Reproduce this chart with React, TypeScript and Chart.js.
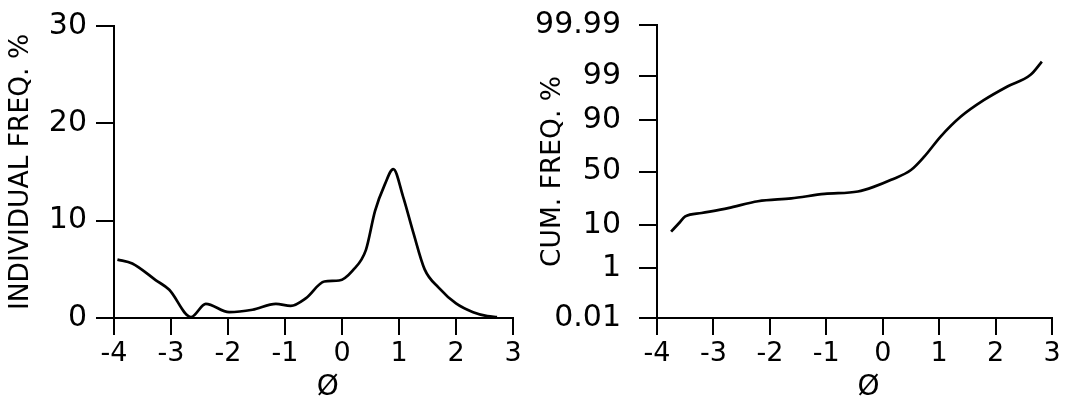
import React, { useEffect, useRef } from "react";
import { Chart, registerables } from "chart.js";

Chart.register(...registerables);

// ---------- data ----------
// Left panel: individual frequency (%) vs phi
const IND_PHI = [-3.94, -3.68, -3.27, -3.03, -2.65, -2.39, -1.98, -1.57, -1.16, -0.9, -0.63, -0.31, -0.05, 0.19, 0.42, 0.58, 0.75, 0.9, 1.07, 1.25, 1.45, 1.7, 2.0, 2.3, 2.55, 2.72];
const IND_FREQ = [6.0, 5.6, 3.9, 2.9, 0.1, 1.45, 0.6, 0.85, 1.45, 1.25, 2.05, 3.75, 3.85, 4.9, 7.0, 11.0, 13.7, 15.3, 12.5, 8.8, 5.0, 3.1, 1.5, 0.6, 0.2, 0.1];
const IND_TICKS = [0, 10, 20, 30];

// Right panel: cumulative frequency on the drawn probability scale
// (values are positions along that scale: 0 = 0.01 %, 6 = 99.99 %)
const CUM_PHI = [-3.75, -3.62, -3.5, -3.21, -2.74, -2.21, -1.62, -1.03, -0.44, -0.15, 0.15, 0.5, 0.74, 1.03, 1.38, 1.79, 2.21, 2.62, 2.82];
const CUM_POS = [1.77, 1.93, 2.08, 2.15, 2.25, 2.39, 2.45, 2.54, 2.59, 2.69, 2.83, 3.03, 3.31, 3.72, 4.12, 4.46, 4.74, 4.98, 5.25];
const CUM_TICK_POS = [0, 1.02, 1.91, 3.0, 4.06, 4.96, 6];
const CUM_TICK_LABELS = ["0.01", "1", "10", "50", "90", "99", "99.99"];

const PHI_TICKS = [-4, -3, -2, -1, 0, 1, 2, 3];
const X_TITLE = "Ø";
const X_TITLE_AT = -0.25; // phi value under the centre of the x-axis title

const FONT = "'DejaVu Sans', 'Liberation Sans', sans-serif";

const xTitlePlugin = {
  id: "xTitle",
  afterDraw(chart: any) {
    const xs = chart.scales.x;
    const ctx = chart.ctx;
    ctx.save();
    ctx.fillStyle = "#000";
    ctx.font = `28px ${FONT}`;
    ctx.textAlign = "center";
    ctx.textBaseline = "middle";
    ctx.fillText(X_TITLE, xs.getPixelForValue(X_TITLE_AT), xs.bottom - 15);
    ctx.restore();
  },
};

type PanelProps = {
  xs: number[];
  ys: number[];
  yMin: number;
  yMax: number;
  yTickPos: number[];
  yTickLabels: string[];
  yTitle: string;
  yTitlePad: number;
  yLabelPad: number;
  yAxisWidth: number;
  padRight: number;
  padTop: number;
  width: number;
};

function Panel(p: PanelProps) {
  const ref = useRef<HTMLCanvasElement | null>(null);
  useEffect(() => {
    if (!ref.current) return;
    const data = p.xs.map((x, i) => ({ x, y: p.ys[i] }));
    const chart = new Chart(ref.current, {
      type: "line",
      data: {
        datasets: [
          {
            data,
            borderColor: "#000",
            borderWidth: 2.7,
            pointRadius: 0,
            fill: false,
            cubicInterpolationMode: "monotone",
          },
        ],
      },
      plugins: [xTitlePlugin],
      options: {
        animation: false,
        responsive: false,
        layout: { padding: { top: p.padTop, right: p.padRight, left: 0, bottom: 0 } },
        plugins: { legend: { display: false }, tooltip: { enabled: false } },
        scales: {
          x: {
            type: "linear",
            min: -4,
            max: 3,
            afterBuildTicks: (axis: any) => {
              axis.ticks = PHI_TICKS.map((v) => ({ value: v }));
            },
            afterFit: (axis: any) => {
              axis.height = 85;
            },
            border: { display: true, color: "#000", width: 2 },
            grid: { drawOnChartArea: false, drawTicks: true, tickLength: 17, color: "#000", lineWidth: 2 },
            ticks: {
              color: "#000",
              padding: 3,
              maxRotation: 0,
              autoSkip: false,
              font: { family: FONT, size: 27 },
              callback: (v: any) => String(v),
            },
          },
          y: {
            type: "linear",
            min: p.yMin,
            max: p.yMax,
            afterBuildTicks: (axis: any) => {
              axis.ticks = p.yTickPos.map((v) => ({ value: v }));
            },
            afterFit: (axis: any) => {
              axis.width = p.yAxisWidth;
              axis.paddingTop = 0;
              axis.paddingBottom = 0;
            },
            border: { display: true, color: "#000", width: 2 },
            grid: { drawOnChartArea: false, drawTicks: true, tickLength: 18, color: "#000", lineWidth: 2 },
            ticks: {
              color: "#000",
              padding: p.yLabelPad,
              autoSkip: false,
              font: { family: FONT, size: 30 },
              callback: (_v: any, i: number) => p.yTickLabels[i],
            },
            title: {
              display: true,
              text: p.yTitle,
              color: "#000",
              font: { family: FONT, size: 26.5, lineHeight: 1 },
              padding: { top: p.yTitlePad, bottom: 0 },
            },
          },
        },
      },
    } as any);
    return () => chart.destroy();
  }, []);
  return <canvas ref={ref} width={p.width} height={403} style={{ display: "block" }} />;
}

export default function App() {
  return (
    <div style={{ position: "fixed", left: 0, top: 0, width: 1083, height: 403, background: "#fff" }}>
      <div style={{ position: "absolute", left: 0, top: 0 }}>
        <Panel
          xs={IND_PHI}
          ys={IND_FREQ}
          yMin={0}
          yMax={30}
          yTickPos={IND_TICKS}
          yTickLabels={IND_TICKS.map(String)}
          yTitle="INDIVIDUAL FREQ. %"
          yTitlePad={8}
          yLabelPad={9}
          yAxisWidth={114}
          padRight={27}
          padTop={26}
          width={540}
        />
      </div>
      <div style={{ position: "absolute", left: 500, top: 0 }}>
        <Panel
          xs={CUM_PHI}
          ys={CUM_POS}
          yMin={0}
          yMax={6}
          yTickPos={CUM_TICK_POS}
          yTickLabels={CUM_TICK_LABELS}
          yTitle="CUM. FREQ. %"
          yTitlePad={40}
          yLabelPad={18}
          yAxisWidth={157}
          padRight={31}
          padTop={25}
          width={583}
        />
      </div>
    </div>
  );
}
